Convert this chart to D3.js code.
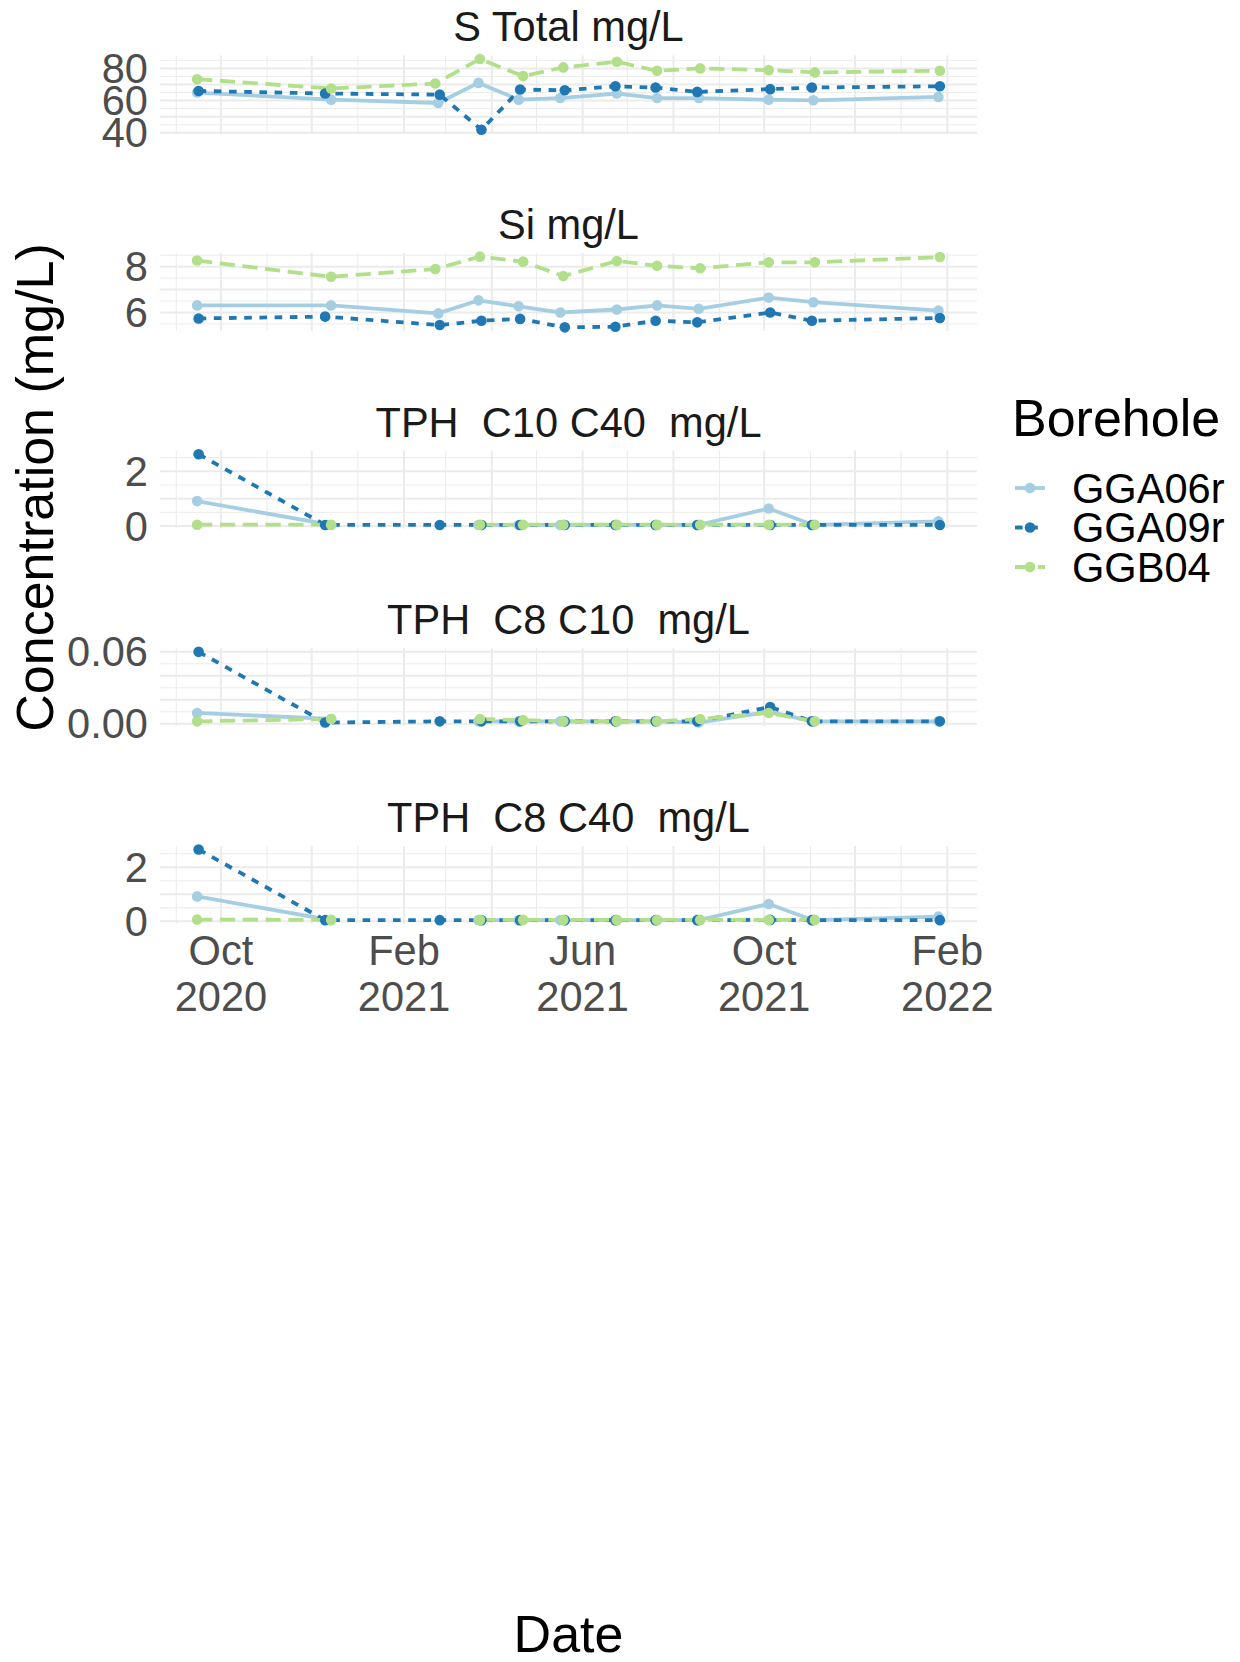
<!DOCTYPE html>
<html>
<head>
<meta charset="utf-8">
<script src="https://cdnjs.cloudflare.com/ajax/libs/d3/7.8.5/d3.min.js"></script>
<style>
  body { margin: 0; background: #fff; }
  text { font-family: "Liberation Sans", Arial, sans-serif; }
</style>
</head>
<body>
<svg width="1240" height="1662"></svg>
<script>
// sampling dates, one list per borehole (they were sampled a day or two apart)
const boreholes = ["GGA06r", "GGA09r", "GGB04"];
const datesGGA06r = ["2020-09-15", "2020-12-14", "2021-02-24", "2021-03-23", "2021-04-19", "2021-05-17",
                     "2021-06-24", "2021-07-21", "2021-08-18", "2021-10-04", "2021-11-03", "2022-01-26"];
const datesGGA09r = ["2020-09-16", "2020-12-10", "2021-02-25", "2021-03-25", "2021-04-20", "2021-05-20",
                     "2021-06-23", "2021-07-20", "2021-08-17", "2021-10-05", "2021-11-02", "2022-01-27"];
const datesGGB04  = ["2020-09-15", "2020-12-14", "2021-02-22", "2021-03-24", "2021-04-22", "2021-05-19",
                     "2021-06-24", "2021-07-21", "2021-08-19", "2021-10-04", "2021-11-04", "2022-01-27"];

const panelTitles = ["S Total mg/L", "Si mg/L", "TPH  C10 C40  mg/L", "TPH  C8 C10  mg/L", "TPH  C8 C40  mg/L"];

// values (mg/L); null = not sampled
const sTotalGGA06r = [65.0, 60.6, 58.5, 71.0, 60.6, 61.6, 64.4, 61.6, 61.6, 60.6, 60.2, 62.3];
const sTotalGGA09r = [66.0, 64.4, 63.7, 41.9, 66.9, 66.4, 68.9, 68.1, 65.4, 67.1, 68.1, 68.9];
const sTotalGGB04  = [73.3, 67.5, 70.6, 85.8, 75.2, 80.6, 84.1, 78.5, 80.0, 78.9, 77.5, 78.5];

const siGGA06r = [6.31, 6.31, 5.96, 6.53, 6.27, 6.00, 6.13, 6.31, 6.16, 6.65, 6.45, 6.08];
const siGGA09r = [5.74, 5.82, 5.45, 5.64, 5.72, 5.35, 5.38, 5.64, 5.57, 6.00, 5.64, 5.76];
const siGGB04  = [8.27, 7.56, 7.90, 8.44, 8.22, 7.59, 8.25, 8.04, 7.93, 8.19, 8.19, 8.42];

const c10c40GGA06r = [0.91, 0.04, null, 0.04, 0.04, 0.04, 0.04, 0.04, 0.04, 0.64, 0.04, 0.17];
const c10c40GGA09r = [2.62, 0.04, 0.04, 0.04, 0.04, 0.04, 0.04, 0.04, 0.04, 0.04, 0.04, 0.04];
const c10c40GGB04  = [0.05, 0.05, null, 0.05, 0.05, 0.05, 0.05, 0.05, 0.05, 0.05, 0.05, null];

const c8c10GGA06r = [0.009, 0.004, null, 0.002, 0.002, 0.002, 0.002, 0.002, 0.001, 0.010, 0.002, 0.002];
const c8c10GGA09r = [0.060, 0.001, 0.002, 0.002, 0.002, 0.002, 0.002, 0.002, 0.002, 0.014, 0.002, 0.002];
const c8c10GGB04  = [0.002, 0.004, null, 0.004, 0.003, 0.002, 0.002, 0.002, 0.004, 0.009, 0.002, null];

const c8c40GGA06r = [0.92, 0.04, null, 0.04, 0.04, 0.04, 0.04, 0.04, 0.04, 0.64, 0.04, 0.17];
const c8c40GGA09r = [2.66, 0.04, 0.04, 0.04, 0.04, 0.04, 0.04, 0.04, 0.04, 0.05, 0.04, 0.04];
const c8c40GGB04  = [0.06, 0.05, null, 0.05, 0.05, 0.05, 0.05, 0.05, 0.05, 0.05, 0.05, null];

// y breaks per panel (labels that survive overlap checking)
const yMajor  = [[40, 50, 60, 70, 80], [6, 7, 8], [0, 1, 2], [0, 0.02, 0.04, 0.06], [0, 1, 2]];
const yLabels = [[40, 60, 80], [6, 8], [0, 2], [0, 0.06], [0, 2]];
const yFormat = ["d", "d", "d", ".2f", "d"];
const xLabelDates = ["2020-10-01", "2021-02-01", "2021-06-01", "2021-10-01", "2022-02-01"];

const colors = ["#A6CEE3", "#1F78B4", "#B2DF8A"];
const dashes = ["none", "7.6,7.6", "15.2,7.6"];

const parse = d3.utcParse("%Y-%m-%d");
const dateLists = [datesGGA06r, datesGGA09r, datesGGB04].map(l => l.map(parse));
const panelValues = [
  [sTotalGGA06r, sTotalGGA09r, sTotalGGB04],
  [siGGA06r, siGGA09r, siGGB04],
  [c10c40GGA06r, c10c40GGA09r, c10c40GGB04],
  [c8c10GGA06r, c8c10GGA09r, c8c10GGB04],
  [c8c40GGA06r, c8c40GGA09r, c8c40GGB04]
];

const left = 160, right = 977;
const firstTop = 55.5, step = 197.6, panelH = 77.8;
const lw = 3.8, pr = 5.3;

var svg = d3.select("svg");
svg.append("rect").attr("width", 1240).attr("height", 1662).attr("fill", "#fff");

// shared x scale with ggplot's 5% expansion
var allDates = dateLists.flat();
var dMin = d3.min(allDates), dMax = d3.max(allDates);
var pad = (dMax - dMin) * 0.05;
var x = d3.scaleUtc()
  .domain([new Date(+dMin - pad), new Date(+dMax + pad)])
  .range([left, right]);
var months = d3.utcMonths(x.domain()[0], x.domain()[1]);

panelValues.forEach((series, p) => {
  var top = firstTop + p * step;
  var vals = series.flat().filter(v => v != null);
  var vMin = d3.min(vals), vMax = d3.max(vals);
  var ypad = (vMax - vMin) * 0.05;
  var y = d3.scaleLinear()
    .domain([vMin - ypad, vMax + ypad])
    .range([top + panelH, top]);

  var g = svg.append("g");

  // minor y grid: halfway between major breaks
  var mStep = yMajor[p][1] - yMajor[p][0];
  var minors = [];
  for (var m = yMajor[p][0] - mStep / 2; m <= y.domain()[1]; m += mStep) {
    if (m >= y.domain()[0]) minors.push(m);
  }
  g.selectAll(".ymin").data(minors).enter().append("line")
    .attr("x1", left).attr("x2", right)
    .attr("y1", d => y(d)).attr("y2", d => y(d))
    .attr("stroke", "#ebebeb").attr("stroke-width", 1);
  g.selectAll(".ymaj").data(yMajor[p].filter(d => d >= y.domain()[0] && d <= y.domain()[1])).enter().append("line")
    .attr("x1", left).attr("x2", right)
    .attr("y1", d => y(d)).attr("y2", d => y(d))
    .attr("stroke", "#ebebeb").attr("stroke-width", 2);

  // x grid: majors every other month (Oct, Dec, Feb...), minors between
  g.selectAll(".xg").data(months).enter().append("line")
    .attr("x1", d => x(d)).attr("x2", d => x(d))
    .attr("y1", top).attr("y2", top + panelH)
    .attr("stroke", "#ebebeb")
    .attr("stroke-width", d => d.getUTCMonth() % 2 == 1 ? 2 : 1);

  // y tick labels
  g.selectAll(".yl").data(yLabels[p]).enter().append("text")
    .attr("x", 148).attr("y", d => y(d))
    .attr("dy", "0.35em")
    .attr("text-anchor", "end")
    .attr("fill", "#4d4d4d")
    .style("font-size", "41.6px")
    .text(d => d3.format(yFormat[p])(d));

  // strip title
  g.append("text")
    .attr("x", (left + right) / 2).attr("y", top - 28.7)
    .attr("dy", "0.35em")
    .attr("text-anchor", "middle")
    .attr("fill", "#1a1a1a")
    .style("font-size", "41.6px")
    .style("white-space", "pre")
    .text(panelTitles[p]);

  var line = d3.line()
    .defined(d => d.v != null)
    .x(d => x(d.date))
    .y(d => y(d.v));

  var groups = series.map((vs, b) => vs.map((v, i) => ({ date: dateLists[b][i], v: v })));

  groups.forEach((pts, b) => {
    g.append("path")
      .attr("d", line(pts))
      .attr("fill", "none")
      .attr("stroke", colors[b])
      .attr("stroke-width", lw)
      .attr("stroke-dasharray", dashes[b]);
  });
  groups.forEach((pts, b) => {
    g.selectAll(".pt" + b).data(pts.filter(d => d.v != null)).enter().append("circle")
      .attr("cx", d => x(d.date))
      .attr("cy", d => y(d.v))
      .attr("r", pr)
      .attr("fill", colors[b]);
  });

  // x tick labels only under the last panel
  if (p == panelValues.length - 1) {
    var fmtM = d3.utcFormat("%b"), fmtY = d3.utcFormat("%Y");
    var xl = g.selectAll(".xl").data(xLabelDates.map(parse)).enter().append("text")
      .attr("text-anchor", "middle")
      .attr("fill", "#4d4d4d")
      .style("font-size", "41.6px");
    xl.append("tspan").attr("x", d => x(d)).attr("y", 965).text(d => fmtM(d));
    xl.append("tspan").attr("x", d => x(d)).attr("y", 1010.6).text(d => fmtY(d));
  }
});

// axis titles
svg.append("text")
  .attr("transform", "translate(35,487.5) rotate(-90)")
  .attr("dy", "0.35em")
  .attr("text-anchor", "middle")
  .style("font-size", "52px")
  .text("Concentration (mg/L)");

svg.append("text")
  .attr("x", (left + right) / 2).attr("y", 1652)
  .attr("text-anchor", "middle")
  .style("font-size", "52px")
  .text("Date");

// legend
var lg = svg.append("g");
lg.append("text")
  .attr("x", 1012).attr("y", 436)
  .style("font-size", "52px")
  .text("Borehole");

boreholes.forEach((name, b) => {
  var cy = 488 + b * 39.5;
  lg.append("line")
    .attr("x1", 1015).attr("x2", 1045)
    .attr("y1", cy).attr("y2", cy)
    .attr("stroke", colors[b])
    .attr("stroke-width", lw)
    .attr("stroke-dasharray", dashes[b]);
  lg.append("circle")
    .attr("cx", 1030).attr("cy", cy).attr("r", pr)
    .attr("fill", colors[b]);
  lg.append("text")
    .attr("x", 1072).attr("y", cy)
    .attr("dy", "0.35em")
    .style("font-size", "41.6px")
    .text(name);
});
</script>
</body>
</html>
